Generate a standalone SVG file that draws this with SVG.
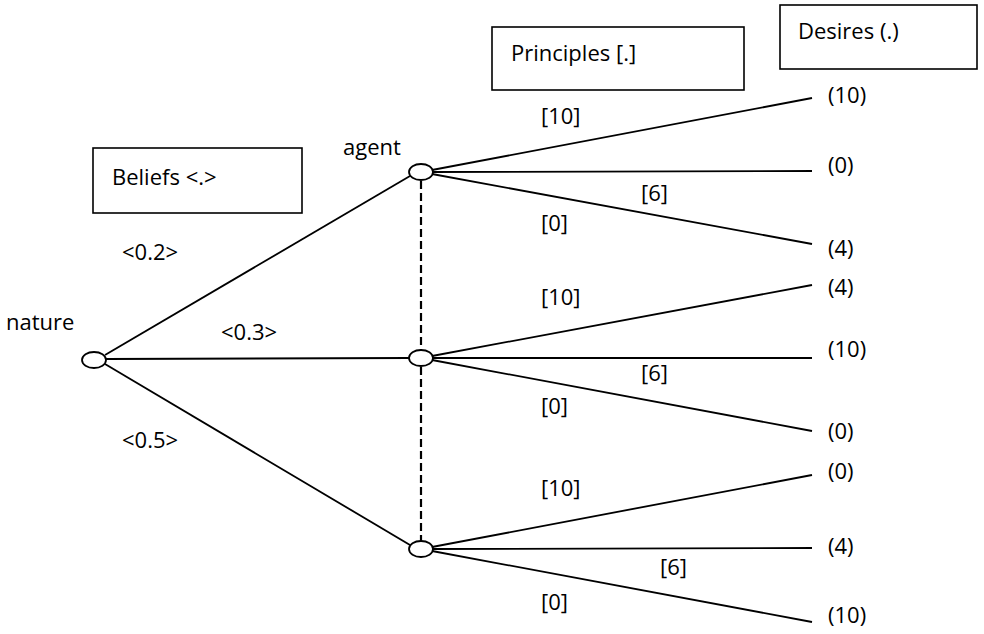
<svg xmlns="http://www.w3.org/2000/svg" width="984" height="634" viewBox="0 0 984 634">
<style>
text{font-family:"Open Sans","Liberation Sans",sans-serif;font-size:22px;fill:#000}
.box{fill:#fff;stroke:#000;stroke-width:1.6}
.nd{fill:#fff;stroke:#000;stroke-width:1.8}
.ln{stroke:#000;stroke-width:1.8;fill:none}
.dash{stroke:#000;stroke-width:2.2;stroke-dasharray:8,4;fill:none}
</style>
<rect width="984" height="634" fill="#fff"/>
<g id="boxes">
<g id="beliefs"><rect class="box" x="93" y="148" width="209" height="65"/><text x="112" y="185">Beliefs &lt;.&gt;</text></g>
<g id="principles"><rect class="box" x="492" y="27" width="252" height="63"/><text x="511" y="61">Principles [.]</text></g>
<g id="desires"><rect class="box" x="780" y="5" width="197" height="64"/><text x="798" y="39">Desires (.)</text></g>
</g>
<g id="connectors">
<line class="ln" x1="105" y1="355" x2="410" y2="176"/>
<line class="ln" x1="106" y1="359" x2="409" y2="358"/>
<line class="ln" x1="105" y1="364" x2="410" y2="545"/>
<line class="dash" x1="421" y1="181" x2="421" y2="350"/>
<line class="dash" x1="421" y1="367" x2="421" y2="541"/>
<line class="ln" x1="432" y1="170" x2="812" y2="98"/>
<line class="ln" x1="433" y1="172" x2="812" y2="171"/>
<line class="ln" x1="432" y1="174" x2="812" y2="244"/>
<line class="ln" x1="432" y1="356" x2="812" y2="285"/>
<line class="ln" x1="433" y1="358" x2="812" y2="358"/>
<line class="ln" x1="432" y1="360" x2="812" y2="431"/>
<line class="ln" x1="432" y1="547" x2="812" y2="475"/>
<line class="ln" x1="433" y1="549" x2="812" y2="548"/>
<line class="ln" x1="432" y1="551" x2="812" y2="622"/>
</g>
<g id="nature"><ellipse class="nd" cx="94" cy="360" rx="12" ry="8"/><text x="6" y="330">nature</text></g>
<g id="agent1"><ellipse class="nd" cx="421" cy="172" rx="12" ry="8"/><text x="343" y="155">agent</text></g>
<g id="agent2"><ellipse class="nd" cx="421" cy="358" rx="12" ry="8"/></g>
<g id="agent3"><ellipse class="nd" cx="421" cy="549" rx="12" ry="8"/></g>
<g id="labels">
<text x="122" y="260">&lt;0.2&gt;</text>
<text x="221" y="340">&lt;0.3&gt;</text>
<text x="122" y="448">&lt;0.5&gt;</text>
<text x="541" y="124">[10]</text>
<text x="641" y="201">[6]</text>
<text x="541" y="231">[0]</text>
<text x="541" y="305">[10]</text>
<text x="641" y="381">[6]</text>
<text x="541" y="414">[0]</text>
<text x="541" y="496">[10]</text>
<text x="660" y="575">[6]</text>
<text x="541" y="610">[0]</text>
</g>
<g id="outcomes">
<text x="828" y="103">(10)</text>
<text x="828" y="173">(0)</text>
<text x="828" y="256">(4)</text>
<text x="828" y="295">(4)</text>
<text x="828" y="357">(10)</text>
<text x="828" y="439">(0)</text>
<text x="828" y="479">(0)</text>
<text x="828" y="554">(4)</text>
<text x="828" y="623">(10)</text>
</g>
</svg>
